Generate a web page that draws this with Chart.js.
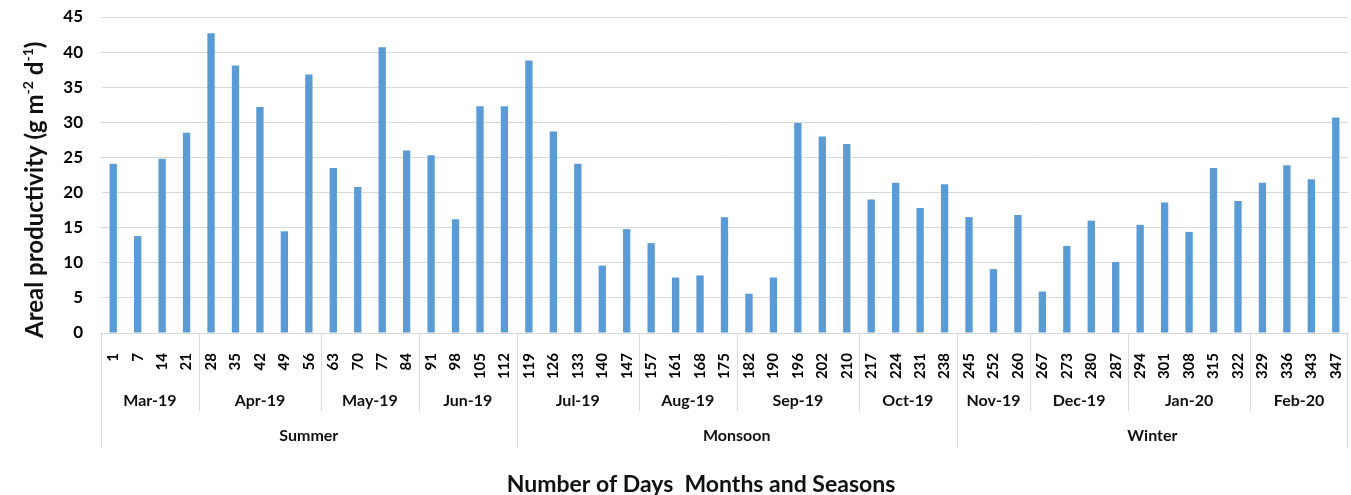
<!DOCTYPE html>
<html lang="en">
<head>
    <meta charset="UTF-8">
    <title>Areal productivity</title>
    <script src="https://cdn.jsdelivr.net/npm/chart.js"></script>
    <style>
        html, body { margin: 0; padding: 0; background: #fff; }
        #wrap { width: 1351px; height: 495px; }
    </style>
</head>
<body>
    <div id="wrap"><canvas id="productivityChart" width="1351" height="495"></canvas></div>

    <script>
        // Data
        const days = [1, 7, 14, 21, 28, 35, 42, 49, 56, 63, 70, 77, 84, 91, 98, 105, 112,
            119, 126, 133, 140, 147, 157, 161, 168, 175, 182, 190, 196, 202, 210, 217, 224, 231, 238,
            245, 252, 260, 267, 273, 280, 287, 294, 301, 308, 315, 322, 329, 336, 343, 347];
        const productivity = [24.1, 13.8, 24.8, 28.5, 42.7, 38.1, 32.2, 14.5, 36.8, 23.5, 20.8, 40.7, 26.0, 25.3, 16.2, 32.3, 32.3,
            38.8, 28.7, 24.1, 9.6, 14.8, 12.8, 7.9, 8.2, 16.5, 5.6, 7.9, 29.9, 28.0, 26.9, 19.0, 21.4, 17.8, 21.2,
            16.5, 9.1, 16.8, 5.9, 12.4, 16.0, 10.1, 15.4, 18.6, 14.4, 23.5, 18.8, 21.4, 23.9, 21.9, 30.7];
        const months = ['Mar-19', 'Apr-19', 'May-19', 'Jun-19', 'Jul-19', 'Aug-19', 'Sep-19', 'Oct-19', 'Nov-19', 'Dec-19', 'Jan-20', 'Feb-20'];
        const monthCounts = [4, 5, 4, 4, 5, 4, 5, 4, 3, 4, 5, 4];
        const seasons = ['Summer', 'Monsoon', 'Winter'];
        const seasonCounts = [17, 18, 16];
        const yTicks = [0, 5, 10, 15, 20, 25, 30, 35, 40, 45];

        const FONT = 'Lato, "Liberation Sans", sans-serif';
        const LINE = '#d9d9d9';

        // draws month / season rows, their separators and both axis titles
        const groupAxisPlugin = {
            id: 'groupAxis',
            afterDraw(chart) {
                const ctx = chart.ctx;
                const x = chart.scales.x;
                const bottom = chart.chartArea.bottom;
                const edge = (i) => i <= 0 ? x.left : (i >= days.length ? x.right
                    : (x.getPixelForValue(i - 1) + x.getPixelForValue(i)) / 2);

                ctx.save();
                ctx.strokeStyle = LINE;
                ctx.lineWidth = 1;
                ctx.fillStyle = '#111';
                ctx.textAlign = 'center';
                ctx.textBaseline = 'middle';

                // month row
                ctx.font = 'bold 16px ' + FONT;
                let start = 0;
                months.forEach((m, k) => {
                    const end = start + monthCounts[k];
                    const a = edge(start), b = edge(end);
                    ctx.beginPath();
                    ctx.moveTo(Math.round(a) + 0.5, bottom);
                    ctx.lineTo(Math.round(a) + 0.5, bottom + 78);
                    ctx.stroke();
                    ctx.fillText(m, (a + b) / 2, bottom + 68);
                    start = end;
                });

                // season row
                ctx.font = 'bold 16px ' + FONT;
                start = 0;
                seasons.forEach((s, k) => {
                    const end = start + seasonCounts[k];
                    const a = edge(start), b = edge(end);
                    ctx.beginPath();
                    ctx.moveTo(Math.round(a) + 0.5, bottom);
                    ctx.lineTo(Math.round(a) + 0.5, bottom + 115);
                    ctx.stroke();
                    ctx.fillText(s, (a + b) / 2, bottom + 103);
                    start = end;
                });
                const r = Math.round(x.right) - 0.5;
                ctx.beginPath();
                ctx.moveTo(r, bottom);
                ctx.lineTo(r, bottom + 115);
                ctx.stroke();

                // x axis title
                ctx.font = 'bold 23px ' + FONT;
                ctx.textBaseline = 'alphabetic';
                ctx.fillText('Number of Days  Months and Seasons', 701, 492);

                // y axis title with superscripts
                ctx.translate(43, 338);
                ctx.rotate(-Math.PI / 2);
                ctx.textAlign = 'left';
                const parts = [
                    ['Areal productivity (g m', false],
                    ['-2', true],
                    [' d', false],
                    ['-1', true],
                    [')', false]
                ];
                let cx = 0;
                parts.forEach(([t, sup]) => {
                    ctx.font = sup ? 'bold 14px ' + FONT : 'bold 24px ' + FONT;
                    ctx.fillText(t, cx, sup ? -10 : 0);
                    cx += ctx.measureText(t).width;
                });
                ctx.restore();
            }
        };

        const ctx = document.getElementById('productivityChart').getContext('2d');
        new Chart(ctx, {
            type: 'bar',
            data: {
                labels: days.map(String),
                datasets: [{
                    label: 'Areal productivity',
                    data: productivity,
                    backgroundColor: '#5b9bd5',
                    borderWidth: 0,
                    barPercentage: 0.3,
                    categoryPercentage: 1.0
                }]
            },
            options: {
                responsive: false,
                animation: false,
                devicePixelRatio: 1,
                layout: { padding: { top: 17, right: 3, left: 0, bottom: 0 } },
                plugins: {
                    legend: { display: false },
                    tooltip: { enabled: false }
                },
                scales: {
                    x: {
                        offset: true,
                        grid: { display: false },
                        border: { display: true, color: LINE },
                        ticks: {
                            autoSkip: false,
                            minRotation: 90,
                            maxRotation: 90,
                            padding: 12,
                            color: '#000',
                            font: { family: FONT, size: 15, weight: 'bold' }
                        },
                        afterFit(scale) {
                            scale.height = 162;
                            scale.paddingLeft = 0;
                            scale.paddingRight = 0;
                        }
                    },
                    y: {
                        min: 0,
                        max: 45,
                        afterBuildTicks(scale) { scale.ticks = yTicks.map(v => ({ value: v })); },
                        grid: { color: LINE, lineWidth: 1, drawTicks: false },
                        border: { display: false },
                        ticks: {
                            padding: 18,
                            color: '#000',
                            font: { family: FONT, size: 17, weight: 'bold' }
                        },
                        afterFit(scale) {
                            scale.width = 101;
                            scale.paddingTop = 0;
                            scale.paddingBottom = 0;
                        }
                    }
                }
            },
            plugins: [groupAxisPlugin]
        });
    </script>
</body>
</html>
